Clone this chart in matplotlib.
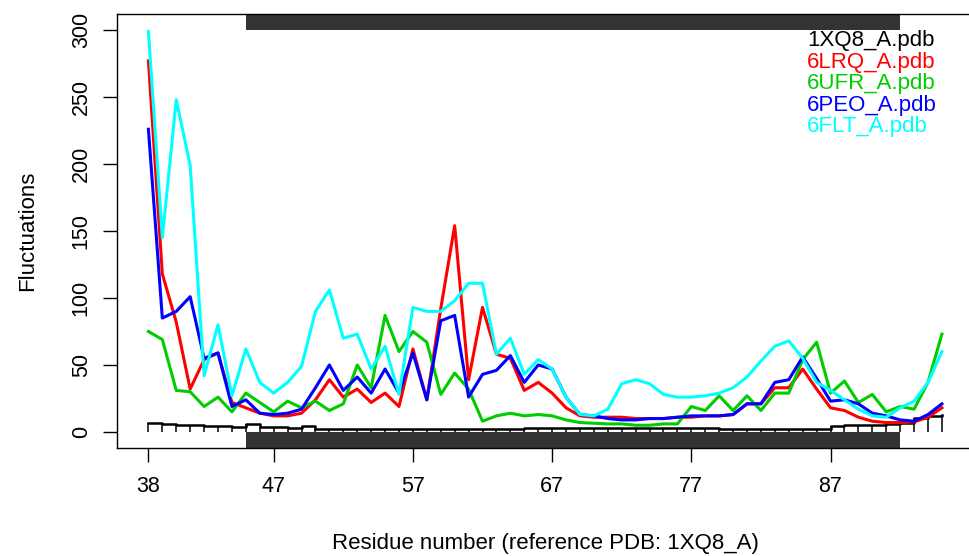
import numpy as np
import matplotlib
matplotlib.use("Agg")
import matplotlib.pyplot as plt

plt.rcParams['font.family'] = ['Liberation Sans', 'DejaVu Sans']

# residue numbers of the reference structure
resno = np.arange(38, 96)

# fluctuations per structure
fl_1xq8 = [7, 5.7, 5.3, 5, 4.5, 4.5, 4, 5.7, 4, 3.5, 3, 4.5, 2.2, 2, 2, 2, 2, 2, 2, 2,
           2, 2, 2, 2, 2, 2, 2, 3, 3, 3, 3, 3, 3, 3, 3, 3, 3, 3, 3, 3, 3, 2.2,
           2.2, 2.2, 2.2, 2.2, 2.2, 2.2, 2.2, 4.5, 5.3, 5.3, 5.3, 6.3, 6.5, 10.5, 12, 12.5]
fl_6lrq = [277, 118, 82, 32, 54, 59, 22, 18, 14, 12, 12, 14, 24, 39, 26, 32, 22, 29, 19, 62,
           24, 92, 154, 39, 93, 58, 55, 31, 37, 29, 18, 12, 11, 11, 11, 10, 10, 10, 11, 11,
           12, 12, 13, 21, 21, 33, 33, 47, 32, 18, 16, 11, 8, 7, 7, 7.5, 11, 18]
fl_6ufr = [75, 69, 31, 30, 19, 26, 15, 29, 22, 15, 23, 18, 23, 16, 21, 50, 33, 87, 60, 75,
           67, 28, 44, 32, 8, 12, 14, 12, 13, 12, 9, 7, 6.5, 6, 6, 5, 5, 6, 6, 19,
           16, 27, 16, 27, 16, 29, 29, 54, 67, 29, 38, 22, 28, 15, 19, 17, 37, 73]
fl_6peo = [226, 85, 90, 101, 55, 59, 19, 24, 14, 13, 14, 17, 33, 50, 31, 41, 29, 47, 29, 59,
           24, 83, 87, 26, 43, 46, 57, 37, 50, 47, 26, 13, 12, 10, 9, 9, 10, 10, 11, 12,
           12, 12, 13, 21, 21, 37, 39, 56, 40, 23, 24, 21, 14, 12, 9, 8, 13, 21]
fl_6flt = [299, 145, 248, 199, 42, 80, 27, 62, 37, 29, 37, 49, 90, 106, 70, 73, 47, 64, 28, 93,
           90, 90, 98, 111, 111, 58, 70, 43, 54, 47, 26, 13, 12, 17, 36, 39, 36, 28, 26, 26,
           27, 29, 33, 41, 53, 64, 68, 55, 37, 31, 24, 17, 12, 11, 18, 23, 37, 60]

labels = ['1XQ8_A.pdb', '6LRQ_A.pdb', '6UFR_A.pdb', '6PEO_A.pdb', '6FLT_A.pdb']
colors = ['black', '#ff0000', '#00cd00', '#0000ff', '#00ffff']

# secondary structure block (helix) of the reference
sse_start, sse_end = 45, 92

xticks = [38, 47, 57, 67, 77, 87]
yticks = [0, 50, 100, 150, 200, 250, 300]

fig = plt.figure(figsize=(9.69, 5.56), dpi=100)
ax = fig.add_axes([0.1204, 0.1942, 0.8844, 0.7806])

ymin, ymax = -12, 312
ax.set_xlim(35.72, 97.28)
ax.set_ylim(ymin, ymax)

# sse bars at top and bottom
ax.broken_barh([(sse_start, sse_end - sse_start)], (ymin, -ymin), facecolors='#333333', zorder=1)
ax.broken_barh([(sse_start, sse_end - sse_start)], (300, ymax - 300), facecolors='#333333', zorder=1)

# reference: step line with drop lines
ax.step(resno, fl_1xq8, where='post', color='black', lw=1.8, zorder=3)
ax.vlines(resno, 0, fl_1xq8, color='black', lw=1.1, zorder=3)

for ys, c in zip([fl_6lrq, fl_6ufr, fl_6peo, fl_6flt], colors[1:]):
    ax.plot(resno, ys, color=c, lw=2.2, zorder=4)

# legend as coloured text
for i, (lab, c) in enumerate(zip(labels, colors)):
    ax.text(0.8055, 0.9263 - i * 0.0496, lab, color=c, fontsize=16,
            transform=ax.transAxes, va='baseline', ha='left')

ax.set_xticks(xticks)
ax.set_xticklabels([str(t) for t in xticks])
ax.set_yticks(yticks)
ax.tick_params(axis='both', direction='out', length=9.9, width=1.0, labelsize=15.5, color='black')
ax.tick_params(axis='x', pad=10)
ax.tick_params(axis='y', pad=8)
plt.setp(ax.get_yticklabels(), rotation=90, va='center')

for s in ax.spines.values():
    s.set_linewidth(1.0)
    s.set_color('black')

ax.set_xlabel('Residue number (reference PDB: 1XQ8_A)', fontsize=16)
ax.set_ylabel('Fluctuations', fontsize=16)
ax.xaxis.set_label_coords(0.5, -0.1950)
ax.yaxis.set_label_coords(-0.0918, 0.5)

fig.savefig('out.png', dpi=100)
